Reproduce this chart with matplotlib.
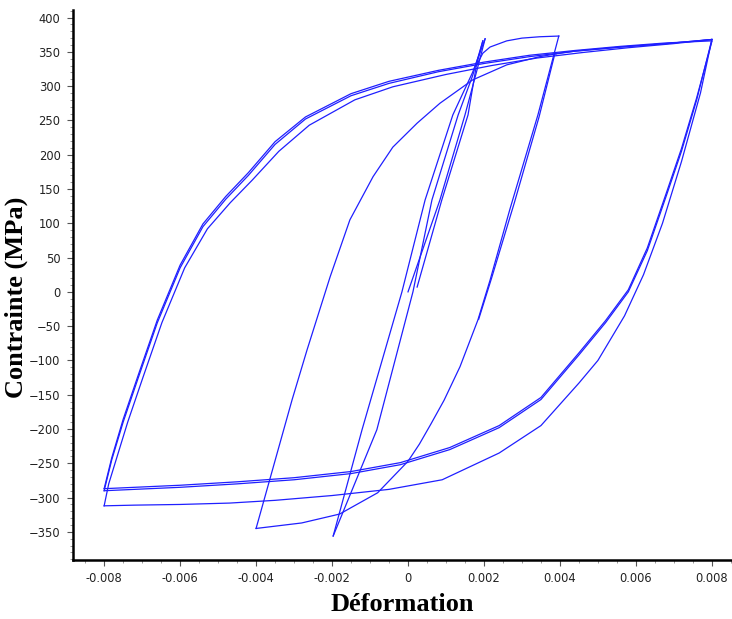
import matplotlib
matplotlib.use("Agg")
import matplotlib.pyplot as plt
from matplotlib.ticker import MultipleLocator, FuncFormatter

# ---- Data: strain (Déformation) / stress (Contrainte, MPa) branches ----
# +-0.002 loop
load02_eps = [0.0, 0.00084, 0.0015, 0.0018, 0.00203]
load02_sig = [0, 134, 258, 320, 369]
down02_eps = [0.00203, 0.0017, 0.00118, 0.00045, -0.00016, -0.00121, -0.00197]
down02_sig = [369, 320, 258, 134, 0, -201, -356]
up02_eps = [-0.00197, -0.00082, 0.00013, 0.00063, 0.00132, 0.0017, 0.00197]
up02_sig = [-356, -201, 0, 134, 258, 315, 366]
end02_eps = [0.00197, 0.0018, 0.00158, 0.00089, 0.00024]
end02_sig = [366, 330, 258, 134, 7]

# +-0.004 loop
top04_eps = [0.0018, 0.00197, 0.00216, 0.0026, 0.0030, 0.00347, 0.00397]
top04_sig = [330, 348, 357, 366, 370, 372, 373]
down04_eps = [0.00397, 0.00342, 0.00268, 0.00216, 0.00184, 0.00137, 0.00095,
              0.00060, 0.00030, 0.0, -0.0008, -0.0018, -0.0028, -0.0040]
down04_sig = [373, 258, 120, 17, -41, -109, -158, -193, -222, -247, -293,
              -324, -337, -345]
up04_eps = [-0.0040, -0.00305, -0.00266, -0.00205, -0.00153, -0.00092, -0.0004,
            0.00024, 0.00084, 0.0017, 0.0026, 0.00347, 0.0039]
up04_sig = [-345, -157, -85, 22, 105, 168, 211, 246, 275, 309, 331, 343, 347]
down04b_eps = [0.00387, 0.00345, 0.0028, 0.0022, 0.00186]
down04b_sig = [348, 255, 130, 20, -40]

# +-0.008 loop
up08a_eps = [0.0039, 0.0044, 0.0056, 0.0068, 0.0080]
up08a_sig = [347, 351, 357, 362, 368]
down08a_eps = [0.0080, 0.0077, 0.0072, 0.0067, 0.0062, 0.0057, 0.0050, 0.0045,
               0.0035, 0.0024, 0.0009, -0.0005, -0.0020, -0.0035, -0.0047,
               -0.0060, -0.0072, -0.0080]
down08a_sig = [368, 290, 190, 100, 25, -35, -100, -133, -195, -235, -274, -288,
               -297, -304, -308, -310, -311, -312]
up08b_eps = [-0.0080, -0.00788, -0.00738, -0.00698, -0.00648, -0.00588,
             -0.00528, -0.00468, -0.00410, -0.0034, -0.0026, -0.0014, -0.0004,
             0.0010, 0.0022, 0.0034, 0.0046, 0.0058, 0.0070, 0.0080]
up08b_sig = [-312, -280, -190, -125, -45, 35, 92, 130, 163, 205, 243, 280, 299,
             317, 330, 341, 349, 356, 362, 368]
down08_eps = [0.0080, 0.0076, 0.0072, 0.0068, 0.0063, 0.0058, 0.0052, 0.0045,
              0.0035, 0.0024, 0.0011, -0.0002, -0.0015, -0.0030, -0.0045,
              -0.0060, -0.0072, -0.0080]
down08c_sig = [368, 280, 205, 140, 60, 0, -45, -92, -157, -198, -230, -252,
               -265, -274, -280, -285, -288, -290]
down08e_sig = [365, 283, 209, 144, 64, 3, -42, -89, -154, -195, -227, -249,
               -262, -271, -277, -282, -285, -287]
up08_eps = [-0.0080, -0.0078, -0.0075, -0.0071, -0.0066, -0.0060, -0.0054,
            -0.0048, -0.0042, -0.0035, -0.0027, -0.0015, -0.0005, 0.0008,
            0.0020, 0.0032, 0.0044, 0.0056, 0.0068, 0.0080]
up08d_sig = [-290, -245, -190, -125, -45, 35, 95, 135, 170, 215, 252, 286, 304,
             321, 333, 343, 351, 357, 362, 368]
up08f_sig = [-287, -242, -186, -121, -41, 39, 99, 139, 174, 219, 255, 289, 307,
             323, 335, 345, 352, 358, 363, 366]

branches = [
    (load02_eps, load02_sig), (down02_eps, down02_sig), (up02_eps, up02_sig),
    (end02_eps, end02_sig), (top04_eps, top04_sig), (down04_eps, down04_sig),
    (up04_eps, up04_sig), (down04b_eps, down04b_sig), (up08a_eps, up08a_sig),
    (down08a_eps, down08a_sig), (up08b_eps, up08b_sig),
    (down08_eps, down08c_sig), (up08_eps, up08d_sig),
    (down08_eps, down08e_sig), (up08_eps, up08f_sig),
]

x_ticks = [-0.008, -0.006, -0.004, -0.002, 0, 0.002, 0.004, 0.006, 0.008]
y_ticks = list(range(-350, 401, 50))

fig = plt.figure(figsize=(7.32, 6.19), dpi=100)
ax = fig.add_axes([73 / 732, 1 - 560 / 619, 1 - 73 / 732, (560 - 10) / 619])

line_color = "#1f1fff"
for e, s in branches:
    ax.plot(e, s, color=line_color, lw=0.9, solid_joinstyle="round")

ax.set_xlim(-0.00882, 0.00853)
ax.set_ylim(-391, 411)

for side in ("top", "right"):
    ax.spines[side].set_visible(False)
for side in ("left", "bottom"):
    ax.spines[side].set_linewidth(1.8)
    ax.spines[side].set_color("black")

ax.set_xticks(x_ticks)
ax.set_yticks(y_ticks)
ax.xaxis.set_minor_locator(MultipleLocator(0.0005))
ax.yaxis.set_minor_locator(MultipleLocator(10))


def xfmt(v, pos):
    if abs(v) < 1e-12:
        return "0"
    return f"{v:.3f}"


ax.xaxis.set_major_formatter(FuncFormatter(xfmt))
ax.tick_params(axis="both", which="major", direction="out", length=4, width=0.8,
               colors="#555555", labelcolor="#222222", labelsize=8.3, pad=5)
ax.tick_params(axis="both", which="minor", direction="out", length=2, width=0.6,
               colors="#888888")

serif = ["Liberation Serif", "DejaVu Serif"]
ax.set_xlabel("Déformation", family=serif, fontweight="bold", fontsize=19)
ax.set_ylabel("Contrainte (MPa)", family=serif, fontweight="bold", fontsize=19)
ax.xaxis.set_label_coords(0.5, -0.06)
ax.yaxis.set_label_coords(-0.068, 0.478)

fig.savefig("out.png", dpi=100)
